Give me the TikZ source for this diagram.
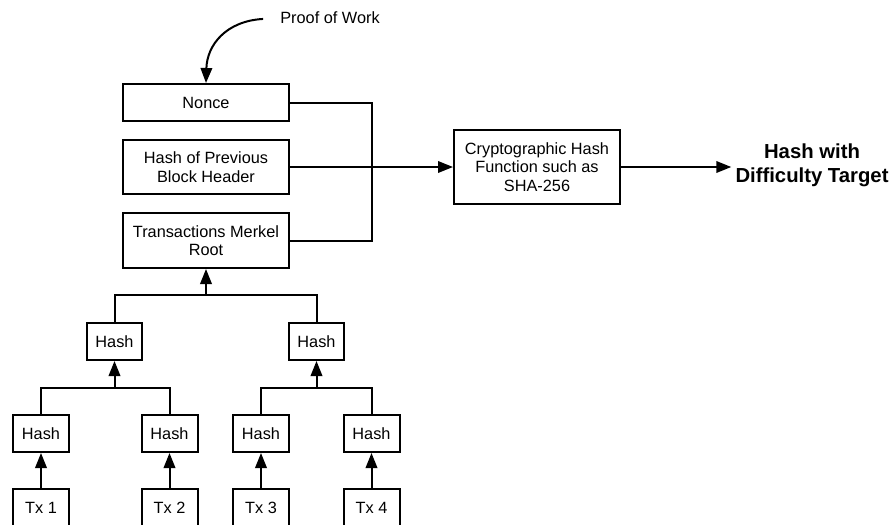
\documentclass[tikz,border=0pt]{standalone}
\usepackage{fontspec}
\setmainfont{Liberation Sans}
\usetikzlibrary{arrows.meta}
\begin{document}
\begin{tikzpicture}[x=1pt,y=-1pt,
  box/.style={draw,line width=2pt,fill=white,align=center,inner sep=0pt,font=\fontsize{16.3}{18.5}\selectfont},
  ln/.style={line width=2pt},
  arr/.style={line width=2pt,-{Triangle[length=15pt,width=11.5pt]}},
  lab/.style={align=center,inner sep=0pt,font=\fontsize{16.3}{18.5}\selectfont}]
\useasboundingbox (0,0) rectangle (892,525);
\begin{scope}
\clip (0,0) rectangle (892,525);
% header boxes
\node[box,minimum width=166,minimum height=37] (nonce) at (206,102.5) {Nonce};
\node[box,minimum width=166,minimum height=54] (prev) at (206,167) {Hash of Previous\\Block Header};
\node[box,minimum width=166,minimum height=55] (merkel) at (206,240.5) {Transactions Merkel\\Root};
\node[box,minimum width=166,minimum height=74] (crypto) at (537,167) {Cryptographic Hash\\Function such as\\SHA-256};
\node[lab,font=\fontsize{20.3}{24}\selectfont\bfseries,inner sep=4pt] (result) at (812,165) {Hash with\\Difficulty Target};
\node[lab] (pow) at (330,18) {Proof of Work};
% tree
\node[box,minimum width=55,minimum height=37] (h2a) at (114.5,341.5) {Hash};
\node[box,minimum width=55,minimum height=37] (h2b) at (316.5,341.5) {Hash};
\node[box,minimum width=56,minimum height=37] (h1a) at (41,433.5) {Hash};
\node[box,minimum width=56,minimum height=37] (h1b) at (169.5,433.5) {Hash};
\node[box,minimum width=56,minimum height=37] (h1c) at (261,433.5) {Hash};
\node[box,minimum width=56,minimum height=37] (h1d) at (371.5,433.5) {Hash};
\node[box,minimum width=56,minimum height=37] (tx1) at (41,507.5) {Tx 1};
\node[box,minimum width=56,minimum height=37] (tx2) at (169.5,507.5) {Tx 2};
\node[box,minimum width=56,minimum height=37] (tx3) at (261,507.5) {Tx 3};
\node[box,minimum width=56,minimum height=37] (tx4) at (371.5,507.5) {Tx 4};
% junctions
\coordinate (bus) at (372,167);
\coordinate (jtop) at (206,295);
\coordinate (jl) at (114.5,388);
\coordinate (jr) at (316.5,388);
% connectors
\draw[ln] (nonce.east) -| (bus) |- (merkel.east);
\draw[arr] (prev.east) -- (crypto.west);
\draw[arr] (crypto.east) -- (crypto.east -| result.west);
\draw[arr,shorten <=17pt] (pow.west) .. controls (226,21) and (207,45) .. (nonce.north);
\draw[ln] (h2a.north) |- (jtop) -| (h2b.north);
\draw[arr] (jtop) -- (merkel.south);
\draw[ln] (h1a.north) |- (jl) -| (h1b.north);
\draw[arr] (jl) -- (h2a.south);
\draw[ln] (h1c.north) |- (jr) -| (h1d.north);
\draw[arr] (jr) -- (h2b.south);
\draw[arr] (tx1) -- (h1a);
\draw[arr] (tx2) -- (h1b);
\draw[arr] (tx3) -- (h1c);
\draw[arr] (tx4) -- (h1d);
\end{scope}
\end{tikzpicture}
\end{document}
